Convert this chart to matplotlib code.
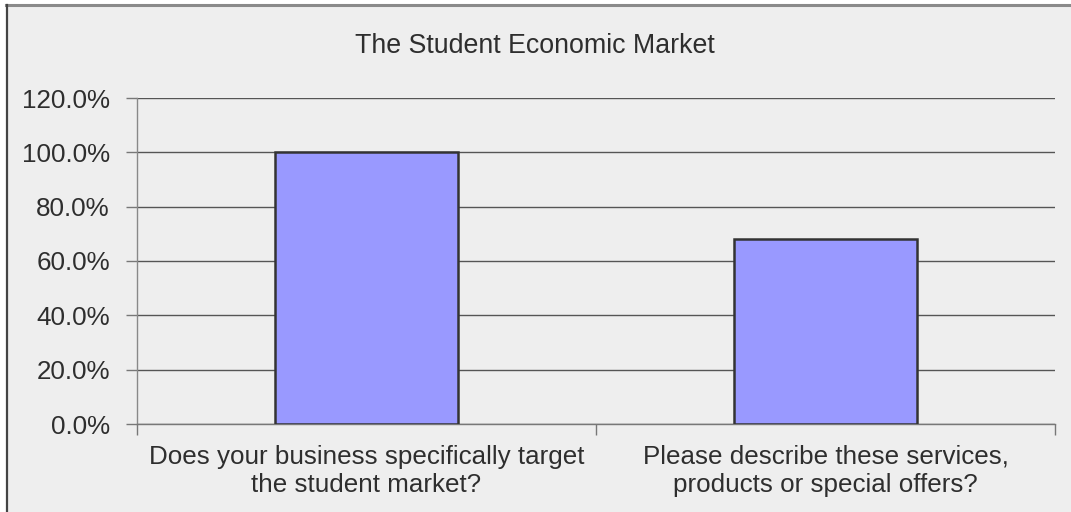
import matplotlib
matplotlib.use("Agg")
import matplotlib.pyplot as plt
from matplotlib.patches import Rectangle
from matplotlib.lines import Line2D
from matplotlib.ticker import FuncFormatter, FixedLocator

title = "The Student Economic Market"
categories = ["Does your business specifically target\nthe student market?",
              "Please describe these services,\nproducts or special offers?"]
values = [100.0, 68.2]
yticks = [0, 20, 40, 60, 80, 100, 120]

plt.rcParams['font.family'] = ['Liberation Sans', 'DejaVu Sans']
W, H = 1071, 512
bg = "#EEEEEE"
txt = "#2E2E2E"
fig = plt.figure(figsize=(W/100, H/100), dpi=100, facecolor="white")

# chart area background and frame (left and top edges visible)
fig.patches.append(Rectangle((6/W, -0.1), 1.2, 1 + 0.1 - 4.5/H, transform=fig.transFigure,
                             facecolor=bg, edgecolor="none", zorder=-10))
fig.lines.append(Line2D([6/W, 1.0], [1 - 4.5/H, 1 - 4.5/H], transform=fig.transFigure,
                        color="#8A8A8A", linewidth=2.2, zorder=-5))
fig.lines.append(Line2D([6.8/W, 6.8/W], [0, 1 - 4.5/H], transform=fig.transFigure,
                        color="#444444", linewidth=1.6, zorder=-5))

ax = fig.add_axes([137/W, 1-424/H, (1055-137)/W, (424-98)/H])
ax.set_zorder(1)
ax.set_facecolor(bg)

x = list(range(len(categories)))
ax.bar(x, values, width=0.4, color="#9999FF", edgecolor="#333333", linewidth=1.8, zorder=3)
ax.set_xlim(-0.5, len(categories) - 0.5)
ax.set_ylim(0, 120)
ax.set_yticks(yticks)
ax.yaxis.set_major_formatter(FuncFormatter(lambda v, p: f"{v:.1f}%"))
ax.yaxis.grid(True, color="#555555", linewidth=1.0, zorder=1)
ax.set_axisbelow(True)

ax.set_xticks(x)
ax.set_xticklabels(categories, linespacing=1.22)
ax.xaxis.set_minor_locator(FixedLocator([-0.5, 0.5, 1.5]))
ax.tick_params(axis="x", which="major", length=0, pad=15, labelsize=18.7, labelcolor=txt)
ax.tick_params(axis="x", which="minor", length=8, color="#777777", width=1.0)
ax.tick_params(axis="y", length=8, color="#777777", width=1.0, labelsize=18.7, labelcolor=txt, pad=11.5)

for s in ["top", "right"]:
    ax.spines[s].set_visible(False)
ax.spines["left"].set_color("#888888")
ax.spines["bottom"].set_color("#777777")
ax.spines["left"].set_linewidth(1.0)
ax.spines["bottom"].set_linewidth(1.0)

fig.text(535/W, 1-53.3/H, title, ha="center", va="baseline", fontsize=19.3, color=txt, zorder=2)

fig.savefig("out.png", dpi=100, facecolor="white")
